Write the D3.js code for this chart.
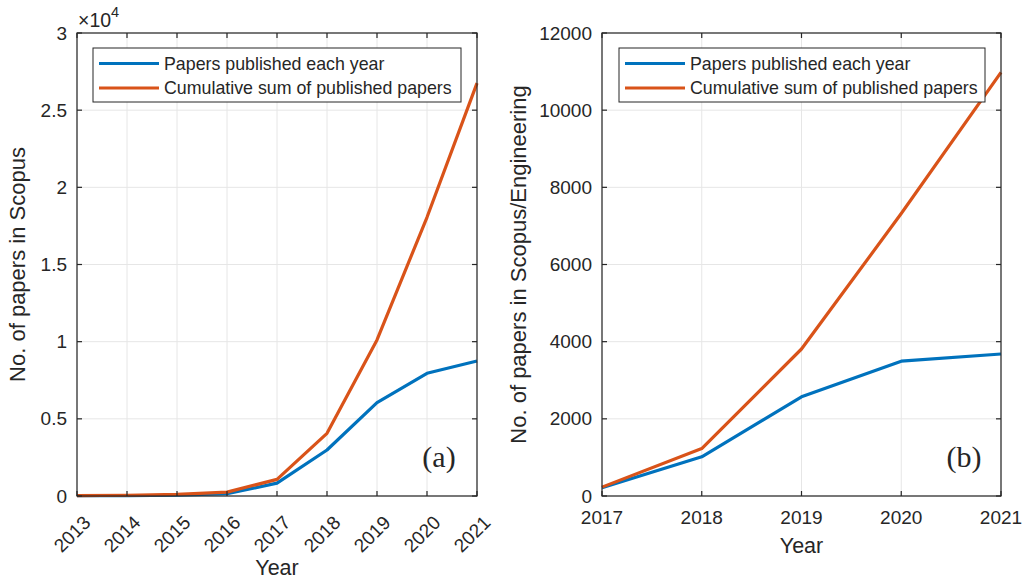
<!DOCTYPE html>
<html>
<head>
<meta charset="utf-8">
<script src="https://cdn.jsdelivr.net/npm/d3@7"></script>
<style>
  body { margin: 0; background: #fff; }
  text { font-family: "Liberation Sans", Arial, sans-serif; fill: #262626; }
</style>
</head>
<body>
<script>
const width = 1025, height = 580;
const svg = d3.select("body").append("svg").attr("width", width).attr("height", height);

// panel (a): all of Scopus
const yearsA = [2013, 2014, 2015, 2016, 2017, 2018, 2019, 2020, 2021];
const perYearA = [20, 30, 50, 150, 830, 2980, 6050, 7950, 8750];
const cumulativeA = [20, 50, 100, 250, 1080, 4060, 10110, 18060, 26750];
const yTicksA = [0, 5000, 10000, 15000, 20000, 25000, 30000];
const yTickLabelsA = ["0", "0.5", "1", "1.5", "2", "2.5", "3"];

// panel (b): Scopus / Engineering
const yearsB = [2017, 2018, 2019, 2020, 2021];
const perYearB = [215, 1015, 2570, 3495, 3680];
const cumulativeB = [230, 1230, 3810, 7320, 10980];
const yTicksB = [0, 2000, 4000, 6000, 8000, 10000, 12000];

const seriesNames = ["Papers published each year", "Cumulative sum of published papers"];
const colors = ["#0072BD", "#D95319"];
const axisColor = "#262626";

function panel(opt) {
  const {x0, x1, y0, y1, years, series, yMax, yTicks, yLabels, rotate, ylabel, tag, legendX, legendW} = opt;
  const g = svg.append("g");
  const x = d3.scaleLinear().domain(d3.extent(years)).range([x0, x1]);
  const y = d3.scaleLinear().domain([0, yMax]).range([y1, y0]);

  // grid
  g.append("g").selectAll("line").data(years).join("line")
    .attr("x1", d => x(d)).attr("x2", d => x(d)).attr("y1", y0).attr("y2", y1)
    .attr("stroke", "#e6e6e6").attr("stroke-width", 1);
  g.append("g").selectAll("line").data(yTicks).join("line")
    .attr("x1", x0).attr("x2", x1).attr("y1", d => y(d)).attr("y2", d => y(d))
    .attr("stroke", "#e6e6e6").attr("stroke-width", 1);

  // lines
  const line = d3.line().x((d, i) => x(years[i])).y(d => y(d));
  series.forEach((s, k) => {
    g.append("path").datum(s).attr("d", line)
      .attr("fill", "none").attr("stroke", colors[k]).attr("stroke-width", 3.2)
      .attr("stroke-linejoin", "round");
  });

  // axes: MATLAB-style box with inward ticks on all sides
  const tl = 5;
  const ax = g.append("g").attr("stroke", axisColor).attr("stroke-width", 1.2);
  ax.append("rect").attr("x", x0).attr("y", y0).attr("width", x1 - x0).attr("height", y1 - y0).attr("fill", "none");
  years.forEach(d => {
    ax.append("line").attr("x1", x(d)).attr("x2", x(d)).attr("y1", y1).attr("y2", y1 - tl);
    ax.append("line").attr("x1", x(d)).attr("x2", x(d)).attr("y1", y0).attr("y2", y0 + tl);
  });
  yTicks.forEach(d => {
    ax.append("line").attr("x1", x0).attr("x2", x0 + tl).attr("y1", y(d)).attr("y2", y(d));
    ax.append("line").attr("x1", x1).attr("x2", x1 - tl).attr("y1", y(d)).attr("y2", y(d));
  });

  // y tick labels
  g.append("g").selectAll("text").data(yTicks).join("text")
    .attr("x", x0 - 10).attr("y", d => y(d)).attr("dy", "0.35em")
    .attr("text-anchor", "end").attr("font-size", 19)
    .text((d, i) => yLabels ? yLabels[i] : d);

  // x tick labels
  const xl = g.append("g").selectAll("text").data(years).join("text")
    .attr("font-size", 19).text(d => d);
  if (rotate) {
    xl.attr("text-anchor", "end")
      .attr("transform", d => `translate(${x(d) + 10},${y1 + 23}) rotate(-45)`)
      .attr("dy", "0.35em");
  } else {
    xl.attr("text-anchor", "middle").attr("x", d => x(d)).attr("y", y1 + 28);
  }

  // axis titles
  g.append("text").attr("text-anchor", "middle").attr("font-size", 21.5)
    .attr("x", (x0 + x1) / 2).attr("y", rotate ? 575 : 553).text("Year");
  g.append("text").attr("text-anchor", "middle").attr("font-size", 22)
    .attr("transform", `translate(${opt.ylabelX},${(y0 + y1) / 2}) rotate(-90)`).text(ylabel);

  // panel tag
  g.append("text")
    .style("font-family", "'Liberation Serif', 'Times New Roman', serif")
    .attr("font-size", 30).attr("text-anchor", "middle")
    .attr("x", opt.tagX).attr("y", 467).text(tag);

  // legend
  const lg = g.append("g").attr("transform", `translate(${legendX},48)`);
  lg.append("rect").attr("width", legendW).attr("height", 54)
    .attr("fill", "#fff").attr("stroke", axisColor).attr("stroke-width", 1);
  seriesNames.forEach((name, k) => {
    const cy = 15.5 + k * 24.5;
    lg.append("line").attr("x1", 6).attr("x2", 66).attr("y1", cy).attr("y2", cy)
      .attr("stroke", colors[k]).attr("stroke-width", 3.2);
    lg.append("text").attr("x", 71).attr("y", cy).attr("dy", "0.35em")
      .attr("font-size", 17.8).text(name);
  });
  return {x, y};
}

panel({
  x0: 77, x1: 477, y0: 33, y1: 496,
  years: yearsA, series: [perYearA, cumulativeA], yMax: 30000,
  yTicks: yTicksA, yLabels: yTickLabelsA, rotate: true,
  ylabel: "No. of papers in Scopus", ylabelX: 25, tag: "(a)", tagX: 439,
  legendX: 93, legendW: 368
});

// exponent label for panel (a)
const ex = svg.append("text").attr("x", 78).attr("y", 27).attr("font-size", 19.5);
ex.append("tspan").text("\u00d710");
ex.append("tspan").attr("dy", -10).attr("font-size", 14.5).text("4");

panel({
  x0: 602, x1: 1001, y0: 33, y1: 496,
  years: yearsB, series: [perYearB, cumulativeB], yMax: 12000,
  yTicks: yTicksB, yLabels: null, rotate: false,
  ylabel: "No. of papers in Scopus/Engineering", ylabelX: 526, tag: "(b)", tagX: 964,
  legendX: 619, legendW: 366
});
</script>
</body>
</html>
